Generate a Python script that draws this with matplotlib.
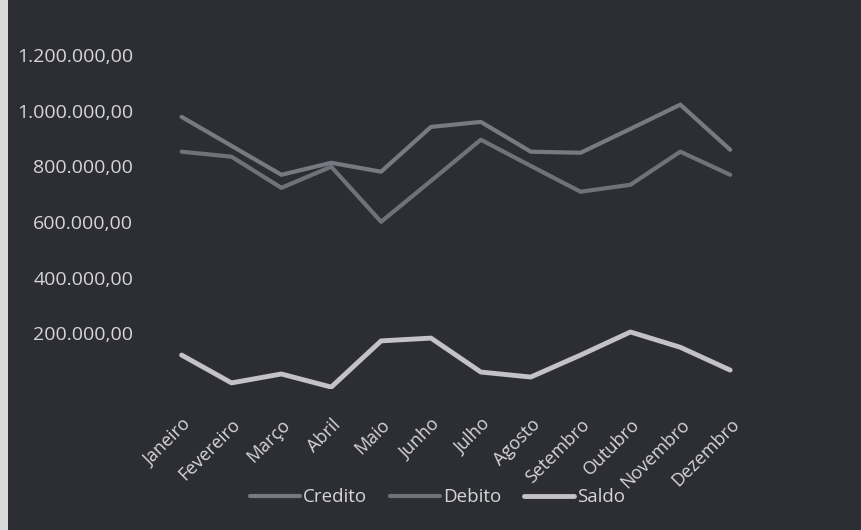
import matplotlib
matplotlib.use('Agg')
import matplotlib.pyplot as plt
from matplotlib.patches import Rectangle
from matplotlib.ticker import FuncFormatter

meses = ['Janeiro', 'Fevereiro', 'Março', 'Abril', 'Maio', 'Junho',
         'Julho', 'Agosto', 'Setembro', 'Outubro', 'Novembro', 'Dezembro']
credito = [978000, 874000, 770000, 813000, 781000, 942000,
           960000, 853000, 849000, 935000, 1022000, 860000]
debito = [853000, 835000, 723000, 799000, 601000, 748000,
          896000, 802000, 709000, 734000, 853000, 770000]
saldo = [122000, 22000, 54000, 7000, 173000, 183000,
         61000, 43000, 122000, 205000, 150000, 68000]

bg = '#2d2e33'
txt = '#d6d6d8'

plt.rcParams['font.family'] = ['Open Sans', 'DejaVu Sans']

fig = plt.figure(figsize=(8.61, 5.30), dpi=100, facecolor=bg)
ax = fig.add_axes([0.182, 0.266, 0.695, 0.630])
ax.set_facecolor(bg)

# faixa clara na borda esquerda da foto
fig.patches.append(Rectangle((0, 0), 0.009, 1, transform=fig.transFigure,
                             facecolor='#d9d9d9', edgecolor='none'))

x = range(len(meses))
ax.plot(x, credito, color='#777a82', lw=3, label='Credito', solid_capstyle='round')
ax.plot(x, debito, color='#6f727a', lw=3, label='Debito', solid_capstyle='round')
ax.plot(x, saldo, color='#c2c2c8', lw=3.5, label='Saldo', solid_capstyle='round')

ax.set_xlim(-0.5, len(meses) - 0.5)
ax.set_ylim(0, 1200000)
ax.set_yticks([200000, 400000, 600000, 800000, 1000000, 1200000])

def fmt_br(v, pos):
    s = f'{v:,.2f}'
    return s.replace(',', 'X').replace('.', ',').replace('X', '.')

ax.yaxis.set_major_formatter(FuncFormatter(fmt_br))
ax.set_xticks(list(x))
ax.set_xticklabels(meses, rotation=45, ha='right', rotation_mode='anchor')

ax.tick_params(axis='y', length=0, pad=17, labelsize=14, labelcolor=txt)
ax.tick_params(axis='x', length=0, pad=19, labelsize=13, labelcolor=txt)
for s in ax.spines.values():
    s.set_visible(False)

leg = fig.legend(loc='center', bbox_to_anchor=(0.508, 0.062), ncol=3,
                 frameon=False, fontsize=13.5, handlelength=2.7,
                 handletextpad=0.15, columnspacing=1.2)
for t in leg.get_texts():
    t.set_color(txt)

fig.savefig('out.png', dpi=100, facecolor=bg)
